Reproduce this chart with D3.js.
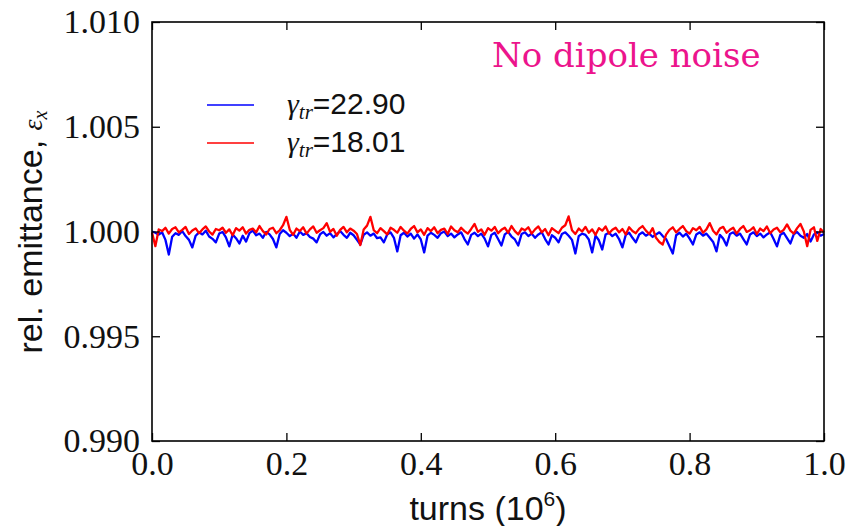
<!DOCTYPE html>
<html lang="en">
<head>
  <meta charset="UTF-8">
  <title>Relative emittance vs turns</title>
  <script src="https://d3js.org/d3.v7.min.js"></script>
  <style>
    body {
      margin: 0;
      background: #fff;
    }

    svg {
      display: block;
    }

    .frame {
      fill: none;
      stroke: #000;
      stroke-width: 1.6px;
    }

    .line {
      fill: none;
      stroke-width: 2.3px;
      stroke-linejoin: round;
    }

    .tick text {
      font-family: "Liberation Serif", serif;
      font-size: 34px;
      fill: #111;
    }

    .tick line {
      stroke: #000;
      stroke-width: 1.3px;
    }

    .axis-label {
      font-family: "Liberation Sans", Arial, sans-serif;
      font-size: 34px;
      fill: #111;
    }

    .legend-text {
      font-family: "Liberation Sans", Arial, sans-serif;
      font-size: 30px;
      fill: #111;
    }

    .math {
      font-family: "Liberation Serif", serif;
      font-style: italic;
    }
  </style>
</head>
<body>
  <svg width="852" height="526"></svg>

  <script>
    const blueEmit = [
      1.00000, 0.99994, 0.99985, 0.99996, 0.99960, 0.99890, 0.99975, 0.99992, 0.99984, 1.00002,
      0.99978, 0.99960, 0.99924, 0.99980, 0.99996, 0.99986, 1.00004, 0.99976, 0.99965, 0.99948,
      0.99990, 0.99998, 0.99972, 0.99929, 0.99985, 0.99968, 0.99943, 0.99980, 0.99952, 0.99992,
      1.00004, 0.99982, 0.99990, 0.99970, 0.99998, 0.99986, 0.99964, 0.99924, 0.99988, 1.00006,
      0.99994, 0.99978, 0.99990, 0.99970, 1.00000, 0.99984, 0.99992, 0.99974, 0.99966, 0.99948,
      0.99986, 0.99998, 0.99980, 0.99992, 0.99972, 0.99988, 1.00002, 0.99984, 0.99970, 0.99994,
      0.99982, 0.99960, 0.99938, 0.99984, 0.99996, 0.99980, 0.99990, 0.99968, 0.99972, 0.99948,
      0.99986, 0.99996, 0.99970, 0.99905, 0.99982, 0.99994, 0.99976, 0.99990, 0.99966, 0.99986,
      0.99962, 0.99900, 0.99980, 0.99994, 0.99984, 0.99970, 0.99992, 1.00000, 0.99978, 0.99990,
      0.99972, 0.99986, 0.99996, 0.99964, 0.99938, 0.99984, 0.99994, 0.99978, 0.99990, 0.99966,
      0.99929, 0.99984, 0.99994, 0.99964, 0.99933, 0.99986, 0.99998, 0.99976, 0.99962, 0.99933,
      0.99988, 0.99996, 0.99978, 0.99990, 0.99970, 0.99986, 0.99996, 0.99964, 0.99938, 0.99982,
      0.99970, 0.99948, 0.99988, 0.99996, 0.99980, 0.99960, 0.99895, 0.99978, 0.99990, 0.99984,
      0.99962, 0.99900, 0.99980, 0.99958, 0.99914, 0.99986, 0.99994, 0.99978, 0.99990, 0.99964,
      0.99924, 0.99984, 0.99994, 0.99970, 0.99948, 0.99986, 0.99996, 0.99980, 0.99990, 0.99974,
      0.99986, 0.99996, 0.99978, 0.99964, 0.99930, 0.99895, 0.99982, 0.99994, 0.99976, 0.99990,
      0.99966, 0.99938, 0.99986, 0.99996, 0.99980, 0.99990, 0.99970, 0.99950, 0.99905, 0.99984,
      0.99966, 0.99933, 0.99988, 0.99996, 0.99980, 0.99990, 0.99964, 0.99938, 0.99986, 0.99996,
      0.99978, 0.99990, 0.99972, 0.99986, 0.99996, 0.99964, 0.99929, 0.99984, 0.99994, 0.99968,
      0.99943, 0.99986, 0.99998, 0.99980, 0.99970, 0.99988, 0.99952, 0.99986, 0.99996, 0.99980,
      0.99988
    ];

    const redEmit = [
      0.99995, 0.99930, 1.00010, 1.00002, 1.00018, 0.99990, 1.00012, 1.00020, 0.99996, 1.00008,
      1.00022, 0.99988, 1.00005, 1.00015, 0.99992, 1.00010, 1.00024, 1.00000, 0.99985, 1.00012,
      1.00006, 1.00018, 0.99994, 1.00010, 0.99982, 1.00016, 1.00004, 1.00020, 0.99990, 1.00008,
      1.00014, 0.99996, 1.00026, 1.00002, 0.99986, 1.00012, 1.00018, 0.99992, 1.00006, 1.00030,
      1.00070, 1.00008, 0.99984, 1.00014, 1.00002, 1.00020, 0.99990, 1.00010, 1.00024, 0.99994,
      1.00006, 1.00016, 1.00040, 0.99998, 1.00012, 0.99980, 1.00008, 1.00022, 0.99996, 1.00014,
      1.00004, 0.99988, 0.99935, 1.00010, 1.00028, 1.00070, 1.00006, 0.99992, 1.00016, 1.00002,
      0.99986, 1.00018, 1.00008, 0.99994, 1.00022, 1.00004, 0.99990, 1.00012, 1.00026, 0.99996,
      1.00010, 0.99984, 1.00016, 1.00002, 1.00020, 0.99992, 1.00008, 1.00014, 0.99988, 1.00024,
      1.00006, 0.99996, 1.00018, 1.00002, 0.99990, 1.00012, 1.00036, 0.99998, 1.00010, 0.99984,
      1.00016, 1.00004, 1.00022, 0.99992, 1.00008, 1.00018, 0.99994, 1.00026, 1.00002, 0.99986,
      1.00014, 1.00006, 1.00020, 0.99990, 1.00010, 1.00024, 0.99996, 1.00012, 0.99982, 1.00016,
      1.00004, 0.99992, 1.00018, 1.00030, 1.00072, 1.00006, 0.99988, 1.00014, 1.00000, 1.00022,
      0.99994, 1.00010, 0.99984, 1.00016, 1.00004, 1.00024, 0.99990, 1.00008, 1.00018, 0.99996,
      1.00012, 0.99986, 1.00020, 1.00002, 0.99992, 1.00014, 1.00026, 1.00004, 0.99988, 1.00016,
      0.99970, 0.99950, 0.99938, 0.99985, 1.00008, 1.00020, 0.99996, 1.00012, 1.00026, 1.00002,
      0.99990, 1.00016, 1.00006, 1.00022, 0.99994, 1.00010, 1.00040, 1.00004, 0.99986, 1.00014,
      1.00022, 0.99994, 1.00008, 1.00018, 0.99990, 1.00012, 1.00026, 0.99998, 1.00006, 1.00020,
      0.99988, 1.00014, 1.00002, 1.00024, 0.99992, 1.00010, 1.00018, 0.99996, 1.00008, 1.00034,
      1.00004, 0.99990, 1.00016, 1.00036, 1.00000, 0.99930, 1.00008, 1.00020, 0.99955, 1.00012,
      0.99995
    ];

    const turnStep = 0.005;   // 10^6 turns between samples
    const xTicks = [0.0, 0.2, 0.4, 0.6, 0.8, 1.0];
    const yTicks = [0.990, 0.995, 1.000, 1.005, 1.010];
    const legendGammas = ["22.90", "18.01"];
    const seriesColors = ["#0000ff", "#ff0000"];

    const margin = {top: 22, right: 28, bottom: 85, left: 152},
          width = 852 - margin.left - margin.right,
          height = 526 - margin.top - margin.bottom;

    const svg = d3.select("svg")
      .append("g")
      .attr("transform", `translate(${margin.left},${margin.top})`);

    const x = d3.scaleLinear().domain([0, 1]).range([0, width]);
    const y = d3.scaleLinear().domain([0.990, 1.010]).range([height, 0]);

    const line = d3.line()
      .x((d, i) => x(i * turnStep))
      .y(d => y(d));

    // data first, frame on top
    [blueEmit, redEmit].forEach((series, k) => {
      svg.append("path")
        .datum(series)
        .attr("class", "line")
        .attr("stroke", seriesColors[k])
        .attr("d", line);
    });

    const fmt3 = d3.format(".3f");
    const fmt1 = d3.format(".1f");

    svg.append("g")
      .call(d3.axisLeft(y).tickValues(yTicks).tickFormat(fmt3)
        .tickSizeInner(-8).tickSizeOuter(0).tickPadding(12))
      .call(g => g.select(".domain").remove());

    svg.append("g")
      .attr("transform", `translate(${width},0)`)
      .call(d3.axisRight(y).tickValues(yTicks).tickFormat("")
        .tickSizeInner(-8).tickSizeOuter(0))
      .call(g => g.select(".domain").remove());

    svg.append("g")
      .attr("transform", `translate(0,${height})`)
      .call(d3.axisBottom(x).tickValues(xTicks).tickFormat(fmt1)
        .tickSizeInner(-8).tickSizeOuter(0).tickPadding(10))
      .call(g => g.select(".domain").remove());

    svg.append("g")
      .call(d3.axisTop(x).tickValues(xTicks).tickFormat("")
        .tickSizeInner(-8).tickSizeOuter(0))
      .call(g => g.select(".domain").remove());

    svg.append("rect")
      .attr("class", "frame")
      .attr("width", width)
      .attr("height", height);

    // axis labels
    const xl = svg.append("text")
      .attr("class", "axis-label")
      .attr("x", width / 2)
      .attr("y", height + 79)
      .attr("text-anchor", "middle");
    xl.append("tspan").text("turns (10");
    xl.append("tspan").attr("font-size", "21px").attr("dy", -14).text("6");
    xl.append("tspan").attr("dy", 14).text(")");

    const yl = svg.append("text")
      .attr("class", "axis-label")
      .attr("transform", "rotate(-90)")
      .attr("x", -(232 - margin.top))
      .attr("y", 42 - margin.left)
      .attr("text-anchor", "middle");
    yl.append("tspan").text("rel. emittance, ");
    yl.append("tspan").attr("class", "math").attr("font-size", "28px").text("ε");
    yl.append("tspan").attr("class", "math").attr("font-size", "20px").attr("dy", 5).text("x");

    // legend
    legendGammas.forEach((g, k) => {
      const ly = 83 + k * 38;
      svg.append("line")
        .attr("x1", 207 - margin.left).attr("x2", 254 - margin.left)
        .attr("y1", ly).attr("y2", ly)
        .attr("stroke", seriesColors[k])
        .attr("stroke-width", 1.6);
      const t = svg.append("text")
        .attr("class", "legend-text")
        .attr("x", 287 - margin.left)
        .attr("y", ly + 3)
        .attr("dy", "0.2em");
      t.append("tspan").attr("class", "math").text("γ");
      t.append("tspan").attr("class", "math").attr("font-size", "21px").attr("dy", 5).text("tr");
      t.append("tspan").attr("dy", -5).text("=" + g);
    });

    svg.append("text")
      .attr("x", 492 - margin.left)
      .attr("y", 67 - margin.top)
      .attr("font-family", "'DejaVu Serif', serif")
      .attr("font-size", "34px")
      .attr("fill", "#ec148c")
      .text("No dipole noise");
  </script>
</body>
</html>
